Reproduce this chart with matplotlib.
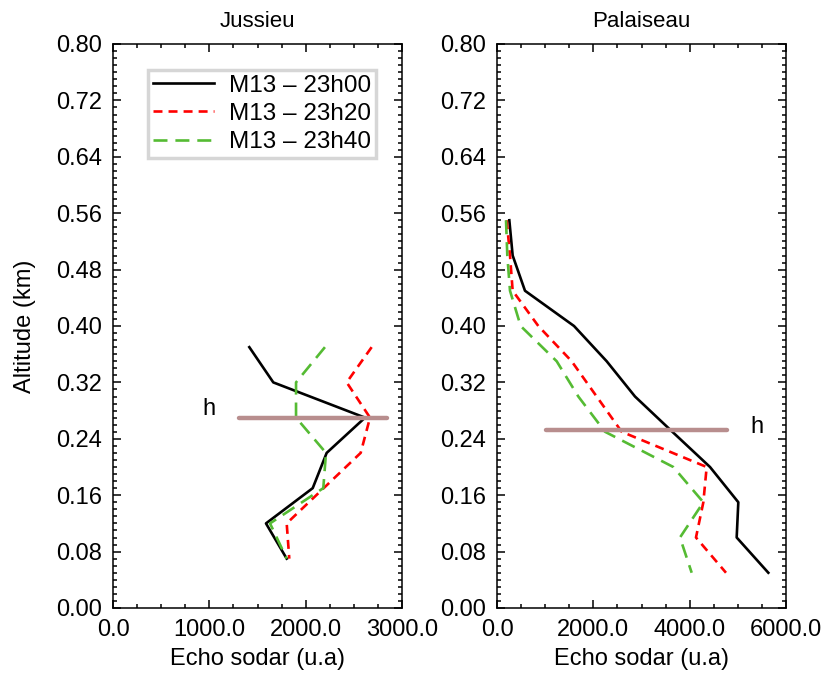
import matplotlib
matplotlib.use("Agg")
import matplotlib.pyplot as plt
from matplotlib.ticker import MultipleLocator, FormatStrFormatter

plt.rcParams['font.family'] = ['Liberation Sans', 'DejaVu Sans']

# Jussieu profiles (altitude in km, echo in u.a)
alt_j = [0.37, 0.32, 0.27, 0.22, 0.17, 0.12, 0.07]
j_2300 = [1415, 1664, 2616, 2218, 2073, 1588, 1803]
j_2320 = [2685, 2426, 2668, 2571, 2187, 1803, 1830]
j_2340 = [2200, 1900, 1900, 2211, 2183, 1630, 1803]
h_jussieu = 0.27
h_j_span = [1310, 2840]

# Palaiseau profiles
alt_p = [0.55, 0.50, 0.45, 0.40, 0.35, 0.30, 0.25, 0.20, 0.15, 0.10, 0.05]
p_2300 = [256, 325, 581, 1599, 2277, 2865, 3640, 4422, 5010, 4976, 5633]
p_2320 = [201, 270, 325, 858, 1550, 2069, 2588, 4353, 4284, 4131, 4754]
p_2340 = [187, 214, 270, 491, 1239, 1688, 2242, 3660, 4284, 3799, 4042]
h_palaiseau = 0.252
h_p_span = [1020, 4780]

labels = ['M13 \u2013 23h00', 'M13 \u2013 23h20', 'M13 \u2013 23h40']

fig = plt.figure(figsize=(8.24, 6.73), dpi=100)
ax1 = fig.add_axes([113/824, 65/673, 289/824, 564/673])
ax2 = fig.add_axes([497/824, 65/673, 289/824, 564/673])

green = '#55bb33'
hcol = '#b88e8e'


def draw(ax, alt, a, b, c):
    ax.plot(a, alt, color='black', lw=1.9, label=labels[0])
    ax.plot(b, alt, color='red', lw=1.9, dashes=(3.4, 2.3), label=labels[1])
    ax.plot(c, alt, color=green, lw=1.9, dashes=(5.3, 3.0), label=labels[2])


draw(ax1, alt_j, j_2300, j_2320, j_2340)
draw(ax2, alt_p, p_2300, p_2320, p_2340)

ax1.plot(h_j_span, [h_jussieu, h_jussieu], color=hcol, lw=3.2, solid_capstyle='round')
ax2.plot(h_p_span, [h_palaiseau, h_palaiseau], color=hcol, lw=3.2, solid_capstyle='round')
ax1.text(1000, 0.282, 'h', fontsize=17, ha='center', va='center')
ax2.text(5400, 0.257, 'h', fontsize=17, ha='center', va='center')

ax1.set_xlim(0, 3000)
ax2.set_xlim(0, 6000)
ax1.xaxis.set_major_locator(MultipleLocator(1000))
ax1.xaxis.set_minor_locator(MultipleLocator(250))
ax2.xaxis.set_major_locator(MultipleLocator(2000))
ax2.xaxis.set_minor_locator(MultipleLocator(500))

for ax, name in [(ax1, 'Jussieu'), (ax2, 'Palaiseau')]:
    ax.set_ylim(0, 0.8)
    ax.yaxis.set_major_locator(MultipleLocator(0.08))
    ax.yaxis.set_minor_locator(MultipleLocator(0.01))
    ax.yaxis.set_major_formatter(FormatStrFormatter('%.2f'))
    ax.xaxis.set_major_formatter(FormatStrFormatter('%.1f'))
    ax.tick_params(which='both', direction='in', top=True, right=True, width=1.1)
    ax.tick_params(which='major', length=6, labelsize=17, pad=8)
    ax.tick_params(which='minor', length=3)
    for s in ax.spines.values():
        s.set_linewidth(1.1)
    ax.set_xlabel('Echo sodar (u.a)', fontsize=17, labelpad=5)
    ax.set_title(name, fontsize=16, pad=12)

ax1.set_ylabel('Altitude (km)', fontsize=17, labelpad=14)

leg = ax1.legend(loc='upper left', bbox_to_anchor=(35/289, 1 - 26/564),
                 borderaxespad=0, fontsize=17.5, fancybox=False, framealpha=1,
                 edgecolor='#d6d6d6', handlelength=2.5, handletextpad=0.65,
                 labelspacing=0.25, borderpad=0.2)
leg.get_frame().set_linewidth(2.5)

fig.savefig('out.png', dpi=100)
